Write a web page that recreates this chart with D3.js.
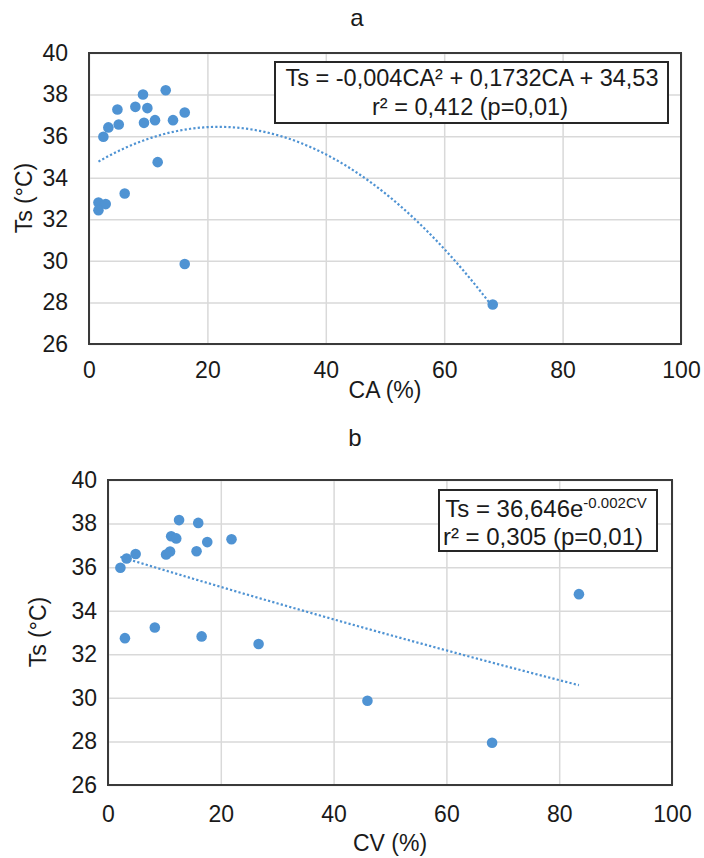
<!DOCTYPE html>
<html><head><meta charset="utf-8">
<script src="https://cdn.jsdelivr.net/npm/d3@7"></script>
<style>
body{margin:0;background:#fff}
text{font-family:"Liberation Sans",Arial,sans-serif;fill:#1a1a1a}
</style>
</head><body>
<svg id="c" width="704" height="858"></svg>
<script>
// ---- data ----
const caA = [12.96, 9.12, 4.8, 7.83, 9.86, 16.17, 3.27, 5.02, 9.29, 11.15, 14.19, 2.43, 11.6, 6.03, 1.6, 2.82, 1.6, 16.17, 68.2];
const tsA = [38.21, 38.0, 37.28, 37.41, 37.35, 37.14, 36.42, 36.56, 36.64, 36.77, 36.77, 35.97, 34.75, 33.24, 32.81, 32.73, 32.44, 29.85, 27.9];
const cvB = [12.6, 16.0, 11.2, 12.1, 21.9, 17.6, 10.3, 11.0, 15.7, 4.9, 3.3, 2.2, 3.0, 8.3, 16.6, 26.7, 46.0, 68.1, 83.5];
const tsB = [38.16, 38.03, 37.42, 37.32, 37.28, 37.15, 36.58, 36.72, 36.73, 36.6, 36.4, 35.97, 32.74, 33.23, 32.82, 32.47, 29.87, 27.94, 34.76];
const xTicks = [0, 20, 40, 60, 80, 100];
const yTicks = [26, 28, 30, 32, 34, 36, 38, 40];
const titles = ["a", "b"];
const xTitles = ["CA (%)", "CV (%)"];
const yTitle = "Ts (°C)";
const eqA = ["Ts = -0,004CA² + 0,1732CA + 34,53", "r² = 0,412 (p=0,01)"];
const eqB = ["Ts = 36,646e", "-0.002CV", "r² = 0,305 (p=0,01)"];

// ---- fits computed from the data (as the spreadsheet trendline does) ----
function quadFit(xs, ys) {
  const S = k => d3.sum(xs, x => Math.pow(x, k));
  const T = k => d3.sum(xs.map((x, i) => Math.pow(x, k) * ys[i]));
  const M = [[S(0), S(1), S(2), T(0)], [S(1), S(2), S(3), T(1)], [S(2), S(3), S(4), T(2)]];
  for (let i = 0; i < 3; i++) {
    for (let j = i + 1; j < 3; j++) {
      const f = M[j][i] / M[i][i];
      for (let k = i; k < 4; k++) M[j][k] -= f * M[i][k];
    }
  }
  const c = [0, 0, 0];
  for (let i = 2; i >= 0; i--) {
    let s = M[i][3];
    for (let k = i + 1; k < 3; k++) s -= M[i][k] * c[k];
    c[i] = s / M[i][i];
  }
  return x => c[0] + c[1] * x + c[2] * x * x;
}
function expFit(xs, ys) {
  const ly = ys.map(Math.log);
  const mx = d3.mean(xs), my = d3.mean(ly);
  const b = d3.sum(xs.map((x, i) => (x - mx) * (ly[i] - my))) / d3.sum(xs, x => (x - mx) * (x - mx));
  const a = Math.exp(my - b * mx);
  return x => a * Math.exp(b * x);
}

const svg = d3.select("#c");
const blue = "#4f93d3";

function panel(cfg) {
  const x = d3.scaleLinear().domain([0, 100]).range([cfg.l, cfg.r]);
  const y = d3.scaleLinear().domain([26, 40]).range([cfg.b, cfg.t]);
  const g = svg.append("g");
  // grid
  g.append("g").attr("transform", `translate(0,${cfg.b})`)
    .call(d3.axisBottom(x).tickValues(xTicks).tickSize(-(cfg.b - cfg.t)).tickFormat(""))
    .call(s => s.select(".domain").remove())
    .call(s => s.selectAll("line").attr("stroke", "#d9d9d9").attr("stroke-width", 1.5));
  g.append("g").attr("transform", `translate(${cfg.l},0)`)
    .call(d3.axisLeft(y).tickValues(yTicks).tickSize(-(cfg.r - cfg.l)).tickFormat(""))
    .call(s => s.select(".domain").remove())
    .call(s => s.selectAll("line").attr("stroke", "#d9d9d9").attr("stroke-width", 1.5));
  // tick labels
  g.append("g").attr("transform", `translate(0,${cfg.b})`)
    .call(d3.axisBottom(x).tickValues(xTicks).tickSize(0).tickPadding(cfg.xpad))
    .call(s => s.select(".domain").remove())
    .call(s => s.selectAll("text").attr("font-size", 23).attr("font-family", "Liberation Sans, Arial, sans-serif").attr("fill", "#1a1a1a"));
  g.append("g").attr("transform", `translate(${cfg.l},0)`)
    .call(d3.axisLeft(y).tickValues(yTicks).tickSize(0).tickPadding(cfg.ypad))
    .call(s => s.select(".domain").remove())
    .call(s => s.selectAll("text").attr("font-size", 23).attr("font-family", "Liberation Sans, Arial, sans-serif").attr("fill", "#1a1a1a"));
  // frame
  g.append("rect").attr("x", cfg.l).attr("y", cfg.t).attr("width", cfg.r - cfg.l).attr("height", cfg.b - cfg.t)
    .attr("fill", "none").attr("stroke", "#3a3a3a").attr("stroke-width", 2);
  // points
  g.append("g").selectAll("circle").data(cfg.xs.map((v, i) => [v, cfg.ys[i]])).join("circle")
    .attr("cx", d => x(d[0])).attr("cy", d => y(d[1])).attr("r", 5.3).attr("fill", blue);
  // trendline
  const x0 = d3.min(cfg.xs), x1 = d3.max(cfg.xs);
  const pts = d3.range(121).map(i => x0 + (x1 - x0) * i / 120).map(v => [v, cfg.fit(v)]);
  g.append("path").datum(pts).attr("fill", "none").attr("stroke", blue).attr("stroke-width", 2.2)
    .attr("stroke-dasharray", "2.2,2.2")
    .attr("d", d3.line().x(d => x(d[0])).y(d => y(d[1])));
  // titles
  g.append("text").attr("x", cfg.tx).attr("y", cfg.ty).attr("text-anchor", "middle").attr("font-size", 24).text(cfg.title);
  g.append("text").attr("x", (cfg.l + cfg.r) / 2).attr("y", cfg.xty).attr("text-anchor", "middle").attr("font-size", 23).text(cfg.xTitle);
  g.append("text").attr("transform", `translate(${cfg.ytx},${cfg.yty}) rotate(-90)`).attr("text-anchor", "middle")
    .attr("font-size", 23).text(yTitle);
  return g;
}

const gA = panel({l: 89, r: 681, t: 53, b: 344, xs: caA, ys: tsA, fit: quadFit(caA, tsA),
  xpad: 18, ypad: 21, title: titles[0], tx: 357, ty: 26, xTitle: xTitles[0], xty: 398, ytx: 32, yty: 198});
const gB = panel({l: 108, r: 672, t: 480, b: 785, xs: cvB, ys: tsB, fit: expFit(cvB, tsB),
  xpad: 21, ypad: 11, title: titles[1], tx: 355, ty: 446, xTitle: xTitles[1], xty: 851, ytx: 46, yty: 632});

// equation boxes
gA.append("rect").attr("x", 275).attr("y", 62).attr("width", 393).attr("height", 61)
  .attr("fill", "#fff").attr("stroke", "#262626").attr("stroke-width", 2);
gA.append("text").attr("x", 472).attr("y", 86).attr("text-anchor", "middle").attr("font-size", 23.5).text(eqA[0]);
gA.append("text").attr("x", 470).attr("y", 115).attr("text-anchor", "middle").attr("font-size", 23.5).text(eqA[1]);

gB.append("rect").attr("x", 439).attr("y", 490).attr("width", 218).attr("height", 61)
  .attr("fill", "#fff").attr("stroke", "#262626").attr("stroke-width", 2);
const t1 = gB.append("text").attr("x", 546).attr("y", 517).attr("text-anchor", "middle").attr("font-size", 24);
t1.append("tspan").text(eqB[0]);
t1.append("tspan").attr("dy", -9).attr("font-size", 15).text(eqB[1]);
gB.append("text").attr("x", 543).attr("y", 545).attr("text-anchor", "middle").attr("font-size", 24).text(eqB[2]);
</script>
</body></html>
